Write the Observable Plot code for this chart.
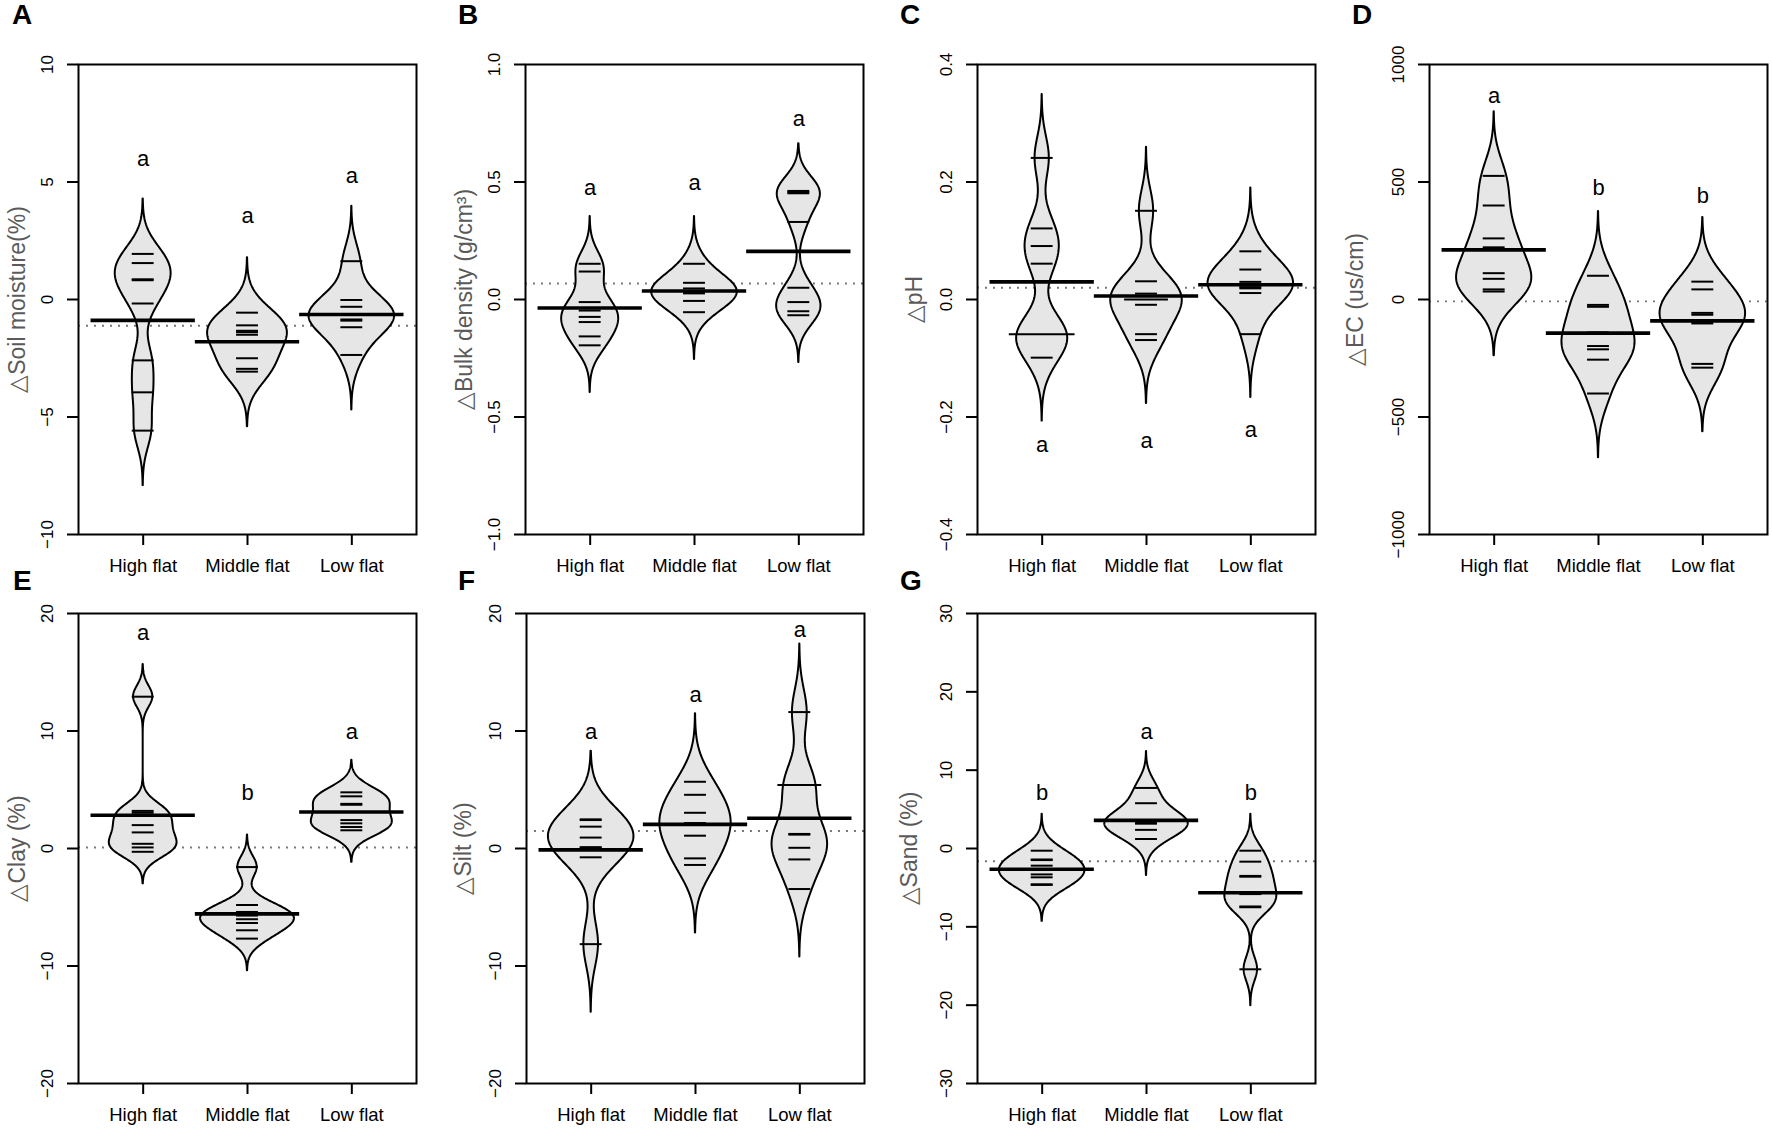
<!DOCTYPE html>
<html><head><meta charset="utf-8">
<script src="https://cdn.jsdelivr.net/npm/d3@7"></script>
<script src="https://cdn.jsdelivr.net/npm/@observablehq/plot@0.6"></script>
<style>
body{margin:0;background:#fff;}
#wrap{position:relative;width:1772px;height:1131px;overflow:hidden;font-family:"Liberation Sans",Arial,sans-serif;background:#fff;}
.letter{position:absolute;font-weight:bold;font-size:28px;line-height:1;color:#000;}
.panel{position:absolute;}
</style></head><body><div id="wrap"></div>
<script>
const categories = ["High flat", "Middle flat", "Low flat"];

// A: soil moisture
const moistureHigh = [1.94, 1.55, 0.86, 0.82, -0.17, -2.59, -3.95, -5.58];
const moistureMiddle = [-0.56, -1.10, -1.33, -1.39, -1.50, -2.50, -2.95, -3.07];
const moistureLow = [1.63, -0.02, -0.31, -0.64, -0.85, -0.90, -1.18, -2.36];
const moistureMeans = [-0.89, -1.80, -0.64];
const moistureOverall = -1.12;
const moistureLetters = ["a", "a", "a"];
const moistureLetterY = [5.97, 3.57, 5.27];
const moistureTicks = [-10, -5, 0, 5, 10];
const moistureTickLabels = ["\u221210", "\u22125", "0", "5", "10"];

// B: bulk density
const bulkHigh = [0.152, 0.119, -0.011, -0.047, -0.074, -0.096, -0.157, -0.195];
const bulkMiddle = [0.152, 0.071, 0.047, 0.036, 0.031, 0.026, -0.006, -0.054];
const bulkLow = [0.462, 0.457, 0.452, 0.330, 0.050, -0.011, -0.050, -0.067];
const bulkMeans = [-0.036, 0.036, 0.205];
const bulkOverall = 0.068;
const bulkLetters = ["a", "a", "a"];
const bulkLetterY = [0.473, 0.496, 0.767];
const bulkTicks = [-1, -0.5, 0, 0.5, 1];
const bulkTickLabels = ["\u22121.0", "\u22120.5", "0.0", "0.5", "1.0"];

// C: pH
const phHigh = [0.241, 0.121, 0.091, 0.061, -0.059, -0.059, -0.059, -0.099];
const phMiddle = [0.151, 0.031, 0.010, 0.0, 0.0, -0.009, -0.059, -0.069];
const phLow = [0.082, 0.051, 0.030, 0.024, 0.021, 0.019, 0.011, -0.059];
const phMeans = [0.030, 0.006, 0.025];
const phOverall = 0.020;
const phLetters = ["a", "a", "a"];
const phLetterY = [-0.248, -0.240, -0.222];
const phTicks = [-0.4, -0.2, 0, 0.2, 0.4];
const phTickLabels = ["\u22120.4", "\u22120.2", "0.0", "0.2", "0.4"];

// D: EC
const ecHigh = [526, 400, 260, 222, 112, 88, 43, 34];
const ecMiddle = [101, -23, -31, -140, -198, -212, -256, -400];
const ecLow = [76, 43, -57, -65, -96, -102, -274, -290];
const ecMeans = [211, -143, -91];
const ecOverall = -8;
const ecLetters = ["a", "b", "b"];
const ecLetterY = [868, 473, 442];
const ecTicks = [-1000, -500, 0, 500, 1000];
const ecTickLabels = ["\u22121000", "\u2212500", "0", "500", "1000"];

// E: clay
const clayHigh = [12.92, 3.20, 3.04, 1.99, 1.37, 0.40, 0.09, -0.28];
const clayMiddle = [-1.58, -4.81, -5.40, -5.71, -6.02, -6.34, -6.96, -7.67];
const clayLow = [4.78, 4.44, 3.80, 3.72, 2.42, 2.14, 1.83, 1.55];
const clayMeans = [2.83, -5.56, 3.11];
const clayOverall = 0.09;
const clayLetters = ["a", "b", "a"];
const clayLetterY = [18.35, 4.69, 9.88];
const clayTicks = [-20, -10, 0, 10, 20];
const clayTickLabels = ["\u221220", "\u221210", "0", "10", "20"];

// F: silt
const siltHigh = [2.48, 2.42, 1.86, 0.93, 0.11, 0.07, -0.75, -8.14];
const siltMiddle = [5.68, 4.57, 3.04, 2.16, 2.12, 1.09, -0.84, -1.40];
const siltLow = [11.61, 5.40, 5.40, 1.24, 1.18, 0.06, -0.93, -3.45];
const siltMeans = [-0.12, 2.05, 2.58];
const siltOverall = 1.49;
const siltLetters = ["a", "a", "a"];
const siltLetterY = [9.88, 13.07, 18.57];
const siltTicks = [-20, -10, 0, 10, 20];
const siltTickLabels = ["\u221220", "\u221210", "0", "10", "20"];

// G: sand
const sandHigh = [-0.28, -1.40, -1.48, -2.19, -2.75, -3.31, -3.68, -4.57, -4.65];
const sandMiddle = [7.73, 5.78, 3.62, 3.50, 3.25, 3.17, 2.38, 1.21];
const sandLow = [-0.28, -1.68, -3.50, -3.60, -5.75, -5.82, -7.40, -7.50, -15.42];
const sandMeans = [-2.65, 3.59, -5.64];
const sandOverall = -1.63;
const sandLetters = ["b", "a", "b"];
const sandLetterY = [7.03, 14.86, 7.03];
const sandTicks = [-30, -20, -10, 0, 10, 20, 30];
const sandTickLabels = ["\u221230", "\u221220", "\u221210", "0", "10", "20", "30"];

const panels = [
  {id: "A", title: "\u25B3Soil moisture(%)", domain: [-10, 10], ticks: moistureTicks, tickLabels: moistureTickLabels,
   series: [moistureHigh, moistureMiddle, moistureLow], means: moistureMeans, overall: moistureOverall,
   letters: moistureLetters, letterY: moistureLetterY, bw: 0.78, maxHalf: 0.41, boxLeft: 78, row: 0, letterX: 12, titleOff: 61},
  {id: "B", title: "\u25B3Bulk density (g/cm\u00B3)", domain: [-1, 1], ticks: bulkTicks, tickLabels: bulkTickLabels,
   series: [bulkHigh, bulkMiddle, bulkLow], means: bulkMeans, overall: bulkOverall,
   letters: bulkLetters, letterY: bulkLetterY, bw: 0.067, maxHalf: 0.41, boxLeft: 525, row: 0, letterX: 458, titleOff: 61},
  {id: "C", title: "\u25B3pH", domain: [-0.4, 0.4], ticks: phTicks, tickLabels: phTickLabels,
   series: [phHigh, phMiddle, phLow], means: phMeans, overall: phOverall,
   letters: phLetters, letterY: phLetterY, bw: 0.036, maxHalf: 0.41, boxLeft: 977, row: 0, letterX: 900, titleOff: 63},
  {id: "D", title: "\u25B3EC (us/cm)", domain: [-1000, 1000], ticks: ecTicks, tickLabels: ecTickLabels,
   series: [ecHigh, ecMiddle, ecLow], means: ecMeans, overall: ecOverall,
   letters: ecLetters, letterY: ecLetterY, bw: 91, maxHalf: 0.41, boxLeft: 1429, row: 0, letterX: 1352, titleOff: 74},
  {id: "E", title: "\u25B3Clay (%)", domain: [-20, 20], ticks: clayTicks, tickLabels: clayTickLabels,
   series: [clayHigh, clayMiddle, clayLow], means: clayMeans, overall: clayOverall,
   letters: clayLetters, letterY: clayLetterY, bw: 0.91, maxHalf: 0.45, boxLeft: 78, row: 1, letterX: 13, titleOff: 61},
  {id: "F", title: "\u25B3Silt (%)", domain: [-20, 20], ticks: siltTicks, tickLabels: siltTickLabels,
   series: [siltHigh, siltMiddle, siltLow], means: siltMeans, overall: siltOverall,
   letters: siltLetters, letterY: siltLetterY, bw: 1.93, maxHalf: 0.41, boxLeft: 526, row: 1, letterX: 458, titleOff: 63},
  {id: "G", title: "\u25B3Sand (%)", domain: [-30, 30], ticks: sandTicks, tickLabels: sandTickLabels,
   series: [sandHigh, sandMiddle, sandLow], means: sandMeans, overall: sandOverall,
   letters: sandLetters, letterY: sandLetterY, bw: 1.55, maxHalf: 0.41, boxLeft: 977, row: 1, letterX: 900, titleOff: 68}
];

const wrap = document.getElementById("wrap");
const ML = 100, MR = 6, MT = 64, MB = 46, BOXW = 338, BOXH = 470;
const rowTop = [0, 549];
const letterTop = [1, 567];

function beanPlot(p) {
  const beans = [];
  let gmax = 0;
  const curves = p.series.map((vals, gi) => {
    const lo = d3.min(vals) - 3 * p.bw, hi = d3.max(vals) + 3 * p.bw;
    const N = 200;
    const pts = d3.range(N + 1).map(k => {
      const y = lo + (hi - lo) * k / N;
      const d = d3.sum(vals, v => Math.exp(-0.5 * ((y - v) / p.bw) ** 2)) / (vals.length * p.bw * Math.sqrt(2 * Math.PI));
      return {g: gi, y, d};
    });
    gmax = Math.max(gmax, d3.max(pts, q => q.d));
    return pts;
  });
  curves.flat().forEach(q => {
    const w = q.d / gmax * p.maxHalf;
    beans.push({g: q.g, y: q.y, xl: q.g + 1 - w, xr: q.g + 1 + w});
  });
  const lines = [];
  p.series.forEach((vals, gi) => {
    const counts = d3.rollup(vals, v => v.length, v => v);
    for (const [v, c] of counts) lines.push({g: gi, v, a: gi + 1 - 0.105 * c, b: gi + 1 + 0.105 * c});
  });

  return Plot.plot({
    width: ML + BOXW + MR, height: MT + BOXH + MB,
    marginLeft: ML, marginRight: MR, marginTop: MT, marginBottom: MB,
    style: {fontFamily: "Liberation Sans, Arial, sans-serif", background: "transparent", overflow: "visible", maxWidth: "none"},
    x: {domain: [0.38, 3.62]},
    y: {domain: p.domain},
    marks: [
      Plot.ruleY([p.overall], {y: d => d, stroke: "#707070", strokeWidth: 1.9, strokeDasharray: "1.9,6.1"}),
      Plot.areaX(beans, {y: "y", x1: "xl", x2: "xr", z: "g", fill: "#e6e6e6", stroke: "#000", strokeWidth: 2, curve: "linear"}),
      Plot.ruleY(lines, {y: "v", x1: "a", x2: "b", stroke: "#000", strokeWidth: 2}),
      Plot.ruleY(p.means, {y: d => d, x1: (d, i) => i + 0.5, x2: (d, i) => i + 1.5, stroke: "#000", strokeWidth: 3.6}),
      Plot.text(p.letters, {x: (d, i) => i + 1, y: (d, i) => p.letterY[i], text: d => d, fontSize: 22, lineAnchor: "middle", fill: "#000"}),
      Plot.frame({stroke: "#000", strokeWidth: 2}),
      Plot.axisY({ticks: p.ticks, tickSize: 11, tickFormat: () => "", label: null, strokeWidth: 2}),
      Plot.text(p.ticks, {y: d => d, frameAnchor: "left", dx: -31, rotate: -90, text: (d, i) => p.tickLabels[i], fontSize: 17, textAnchor: "middle", lineAnchor: "middle", fill: "#000"}),
      Plot.axisX({ticks: [1, 2, 3], tickSize: 11, tickFormat: () => "", label: null, strokeWidth: 2}),
      Plot.text(categories, {x: (d, i) => i + 1, frameAnchor: "bottom", dy: 32, text: d => d, fontSize: 18.5, lineAnchor: "middle", fill: "#000"}),
      Plot.text([p.title], {frameAnchor: "left", dx: -p.titleOff, rotate: -90, text: d => d, fontSize: 23, lineAnchor: "middle", textAnchor: "middle", fill: "#5a5a5a"})
    ]
  });
}

for (const p of panels) {
  const svg = beanPlot(p);
  const holder = document.createElement("div");
  holder.className = "panel";
  holder.style.left = (p.boxLeft - ML) + "px";
  holder.style.top = rowTop[p.row] + "px";
  holder.appendChild(svg);
  wrap.appendChild(holder);
  const L = document.createElement("div");
  L.className = "letter";
  L.textContent = p.id;
  L.style.left = p.letterX + "px";
  L.style.top = letterTop[p.row] + "px";
  wrap.appendChild(L);
}
</script></body></html>
